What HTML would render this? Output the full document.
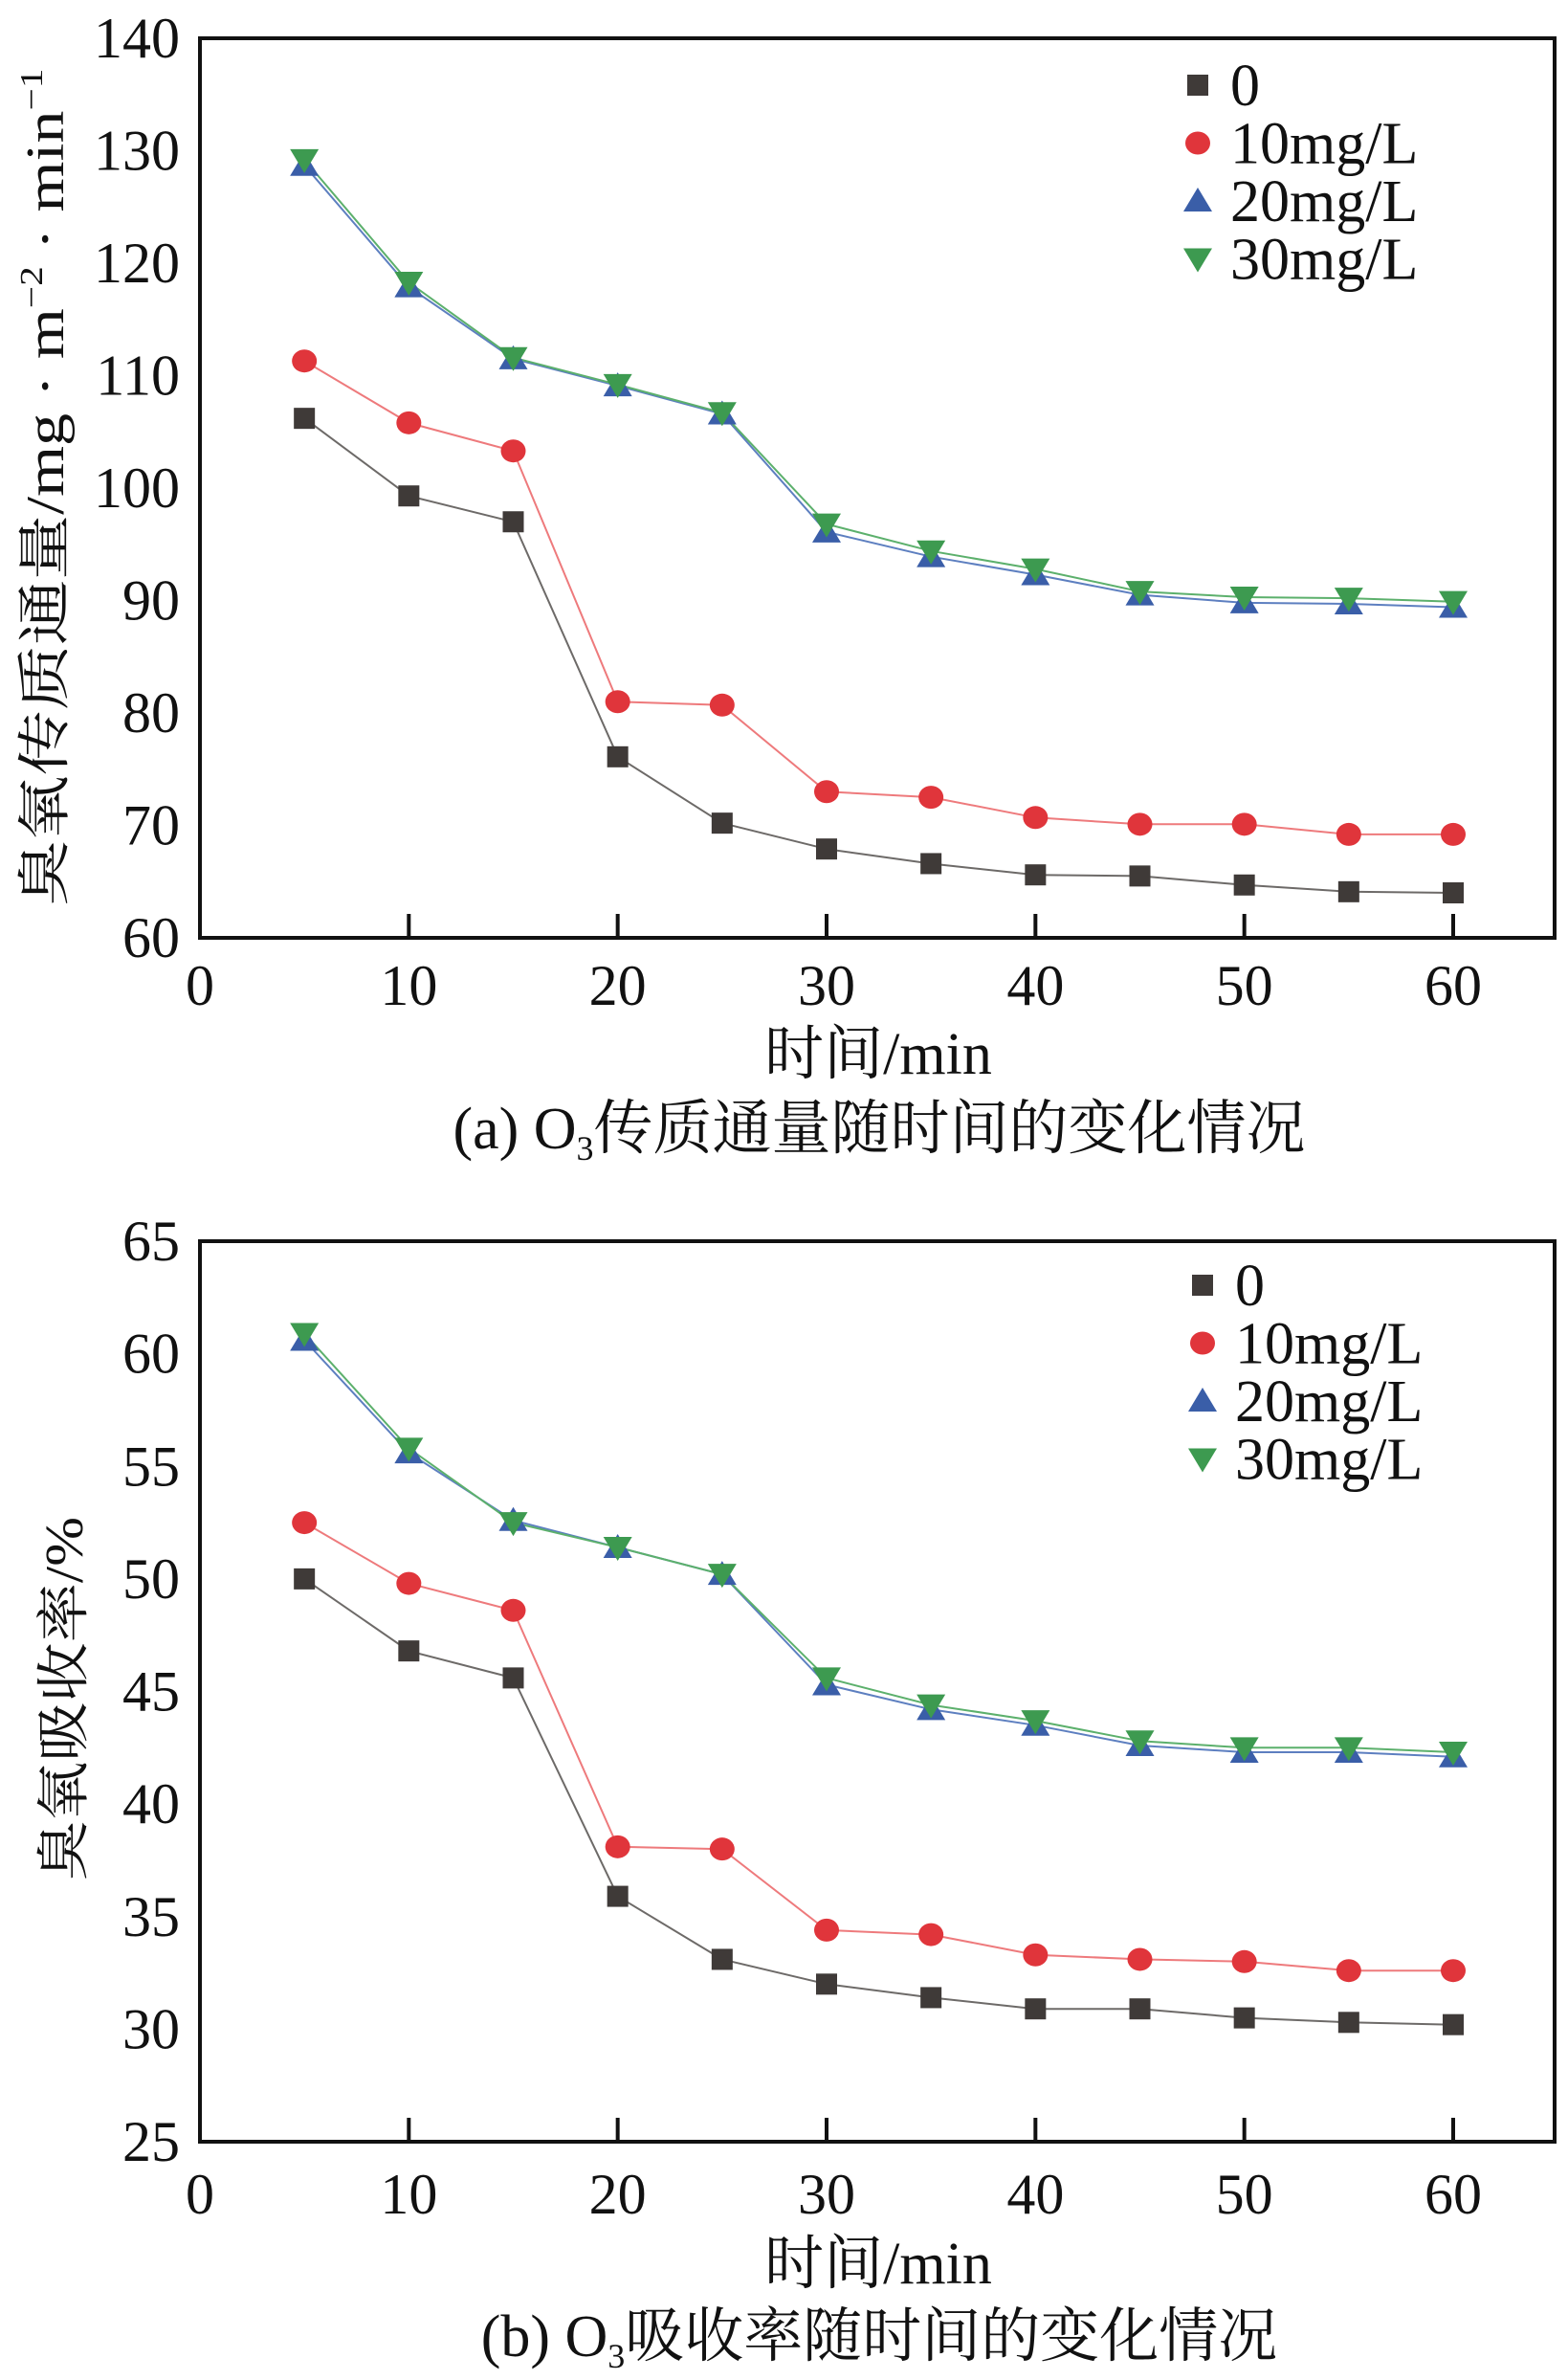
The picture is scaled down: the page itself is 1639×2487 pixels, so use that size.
<!DOCTYPE html>
<html><head><meta charset="utf-8">
<style>
html,body{margin:0;padding:0;background:#fff;}
svg{display:block;}
text{font-family:"Liberation Serif","Noto Serif CJK SC","Noto Sans CJK SC",serif;fill:#111;}
</style></head>
<body>
<svg id="fig" width="1639" height="2487" viewBox="0 0 1639 2487" xmlns="http://www.w3.org/2000/svg"></svg>
<script>
const xValues = [5,10,15,20,25,30,35,40,45,50,55,60];
const xTicks = [0,10,20,30,40,50,60];
const seriesNames = ["0","10mg/L","20mg/L","30mg/L"];
const fluxS0 = [106.2,99.3,97.0,76.1,70.2,67.9,66.6,65.6,65.5,64.7,64.1,64.0];
const fluxS10 = [111.3,105.8,103.3,81.0,80.7,73.0,72.5,70.7,70.1,70.1,69.2,69.2];
const fluxS20 = [128.7,117.9,111.5,109.1,106.6,96.1,93.9,92.3,90.5,89.8,89.7,89.4];
const fluxS30 = [129.2,118.3,111.6,109.2,106.7,96.8,94.4,92.8,90.8,90.3,90.2,89.9];
const fluxTicks = [60,70,80,90,100,110,120,130,140];
const absS0 = [50.0,46.8,45.6,35.9,33.1,32.0,31.4,30.9,30.9,30.5,30.3,30.2];
const absS10 = [52.5,49.8,48.6,38.1,38.0,34.4,34.2,33.3,33.1,33.0,32.6,32.6];
const absS20 = [60.6,55.6,52.6,51.4,50.2,45.3,44.2,43.5,42.6,42.3,42.3,42.1];
const absS30 = [60.9,55.8,52.5,51.4,50.2,45.6,44.4,43.7,42.8,42.5,42.5,42.3];
const absTicks = [25,30,35,40,45,50,55,60,65];

const NS="http://www.w3.org/2000/svg";
const svg=document.getElementById('fig');
function mk(tag,attrs,parent){const e=document.createElementNS(NS,tag);for(const k in attrs)e.setAttribute(k,attrs[k]);(parent||svg).appendChild(e);return e;}
const colors=["#3f3a38","#e0353b","#3a5ea8","#3d9a50"];
const lineColors=["#6d6a68","#ee7a7c","#5d7fc0","#5cb06c"];

function drawChart(cfg){
  const g=mk('g',{});
  
  
  const L=209,R=1625,T=cfg.top,B=cfg.bottom;
  const xs=v=>L+(v-0)*(1519-209)/60;
  const ys=v=>B-(v-cfg.ymin)/(cfg.ymax-cfg.ymin)*(B-T);
  cfg.series.forEach((arr,si)=>{
    const pts=arr.map((v,i)=>xs(xValues[i]).toFixed(1)+','+ys(v).toFixed(1)).join(' ');
    const pl=mk('polyline',{points:pts,fill:'none',stroke:lineColors[si],'stroke-width':2},g);
    
    
  });
  cfg.series.forEach((arr,si)=>{
    arr.forEach((v,i)=>{
      const m=marker(si,xs(xValues[i]),ys(v),g);
      
      
    });
  });
  const fr=mk('rect',{x:L,y:T,width:R-L,height:B-T,fill:'none',stroke:'#111','stroke-width':4},g);
  
  
  xTicks.forEach(t=>{
    const x=xs(t);
    if(t>0){const tl=mk('line',{x1:x,y1:B,x2:x,y2:B-25,stroke:'#111','stroke-width':4},g);
    
    }
    const tx=mk('text',{x:x,y:cfg.xlabY,'text-anchor':'middle','font-size':60},g);
    tx.textContent=t;
    
    
  });
  cfg.yticks.forEach(t=>{
    const y=ys(t);
    const ty=mk('text',{x:188,y:y+20,'text-anchor':'end','font-size':60},g);
    ty.textContent=t;
    
    
  });
  seriesNames.forEach((n,si)=>{
    const y=cfg.legY+si*60.5;
    const m=marker(si,cfg.legX,y,g,true);
    
    
    const t=mk('text',{x:cfg.legX+34,y:y+21,'font-size':62},g);
    t.textContent=n;
    
    
  });
  const xt=mk('text',{x:918,y:cfg.xtitleY,'text-anchor':'middle','font-size':62},g);
  xt.textContent='时间/min';
  
  
  const cap=mk('text',{x:cfg.capX,y:cfg.capY,'text-anchor':'middle','font-size':62},g);
  cap.innerHTML=cfg.caption;
  
  
  const yt=mk('text',{x:0,y:0,'text-anchor':'middle','font-size':56,transform:`translate(${cfg.ytX},${cfg.ytY}) rotate(-90)`,textLength:cfg.ytLen,lengthAdjust:'spacingAndGlyphs'},g);
  yt.innerHTML=cfg.ytitle;
  
  
}
function marker(si,x,y,g,leg){
  const s=11;
  if(si===0) return mk('rect',{x:x-s,y:y-s,width:2*s,height:2*s,fill:colors[0]},g);
  if(si===1) return mk('ellipse',{cx:x,cy:y,rx:13,ry:12,fill:colors[1]},g);
  if(si===2) return mk('polygon',{points:`${x},${y-14} ${x+15},${y+11} ${x-15},${y+11}`,fill:colors[2]},g);
  return mk('polygon',{points:`${x-15},${y-11} ${x+15},${y-11} ${x},${y+14}`,fill:colors[3]},g);
}
drawChart({name:'chart-a-flux',top:40,bottom:980,ymin:60,ymax:140,yticks:fluxTicks,
  series:[fluxS0,fluxS10,fluxS20,fluxS30],xlabY:1050,legX:1252,legY:89,xtitleY:1122,capX:919,capY:1200,
  caption:'(a) O<tspan font-size="36" dy="12">3</tspan><tspan dy="-12">传质通量随时间的变化情况</tspan>',
  ytX:66,ytY:509,ytLen:875,
  ytitle:'臭氧传质通量/mg · m<tspan font-size="34" dy="-22">−2</tspan><tspan dy="22"> · min</tspan><tspan font-size="34" dy="-22">−1</tspan>'});
drawChart({name:'chart-b-absorption',top:1297,bottom:2238,ymin:25,ymax:65,yticks:absTicks,
  series:[absS0,absS10,absS20,absS30],xlabY:2313,legX:1257,legY:1343,xtitleY:2386,capX:919,capY:2462,
  caption:'(b) O<tspan font-size="36" dy="12">3</tspan><tspan dy="-12">吸收率随时间的变化情况</tspan>',
  ytX:86,ytY:1775,ytLen:380,
  ytitle:'臭氧吸收率/%'});
</script>
</body></html>
